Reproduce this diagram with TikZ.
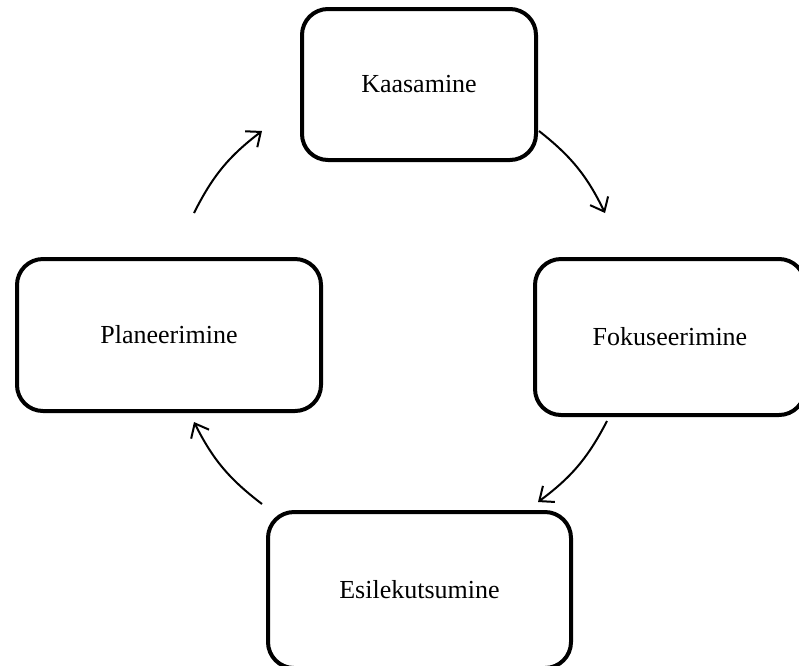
\documentclass[tikz,border=0pt]{standalone}
\usepackage{fontspec}
\setmainfont{Liberation Serif}
\usetikzlibrary{arrows.meta}
\begin{document}
\begin{tikzpicture}[x=1pt,y=-1pt,
  stage/.style={draw=black, line width=4pt, rounded corners=26pt, fill=white,
    inner sep=0pt, font=\fontsize{26}{30}\selectfont},
  cycarrow/.style={line width=2pt, -{Straight Barb[length=12pt,width=20pt,line width=2pt]}, bend left=13}
]
\useasboundingbox (0,0) rectangle (799,665);
\clip (0,0) rectangle (799,665);
\fill[white] (0,0) rectangle (799,665);

\node[stage, minimum width=234pt, minimum height=151pt] (k) at (419,84.5) {Kaasamine};
\node[stage, minimum width=270pt, minimum height=156pt] (f) at (670,337) {Fokuseerimine};
\node[stage, minimum width=303pt, minimum height=156pt] (e) at (419.5,590) {Esilekutsumine};
\node[stage, minimum width=304pt, minimum height=152pt] (p) at (169,335) {Planeerimine};

\coordinate (a1s) at (539,131);
\coordinate (a1e) at (605,213);
\coordinate (a2s) at (607,421);
\coordinate (a2e) at (538,502);
\coordinate (a3s) at (262,504);
\coordinate (a3e) at (194,422);
\coordinate (a4s) at (194,213);
\coordinate (a4e) at (262,131);

\draw[cycarrow] (a1s) to (a1e);
\draw[cycarrow] (a2s) to (a2e);
\draw[cycarrow] (a3s) to (a3e);
\draw[cycarrow] (a4s) to (a4e);
\end{tikzpicture}
\end{document}
